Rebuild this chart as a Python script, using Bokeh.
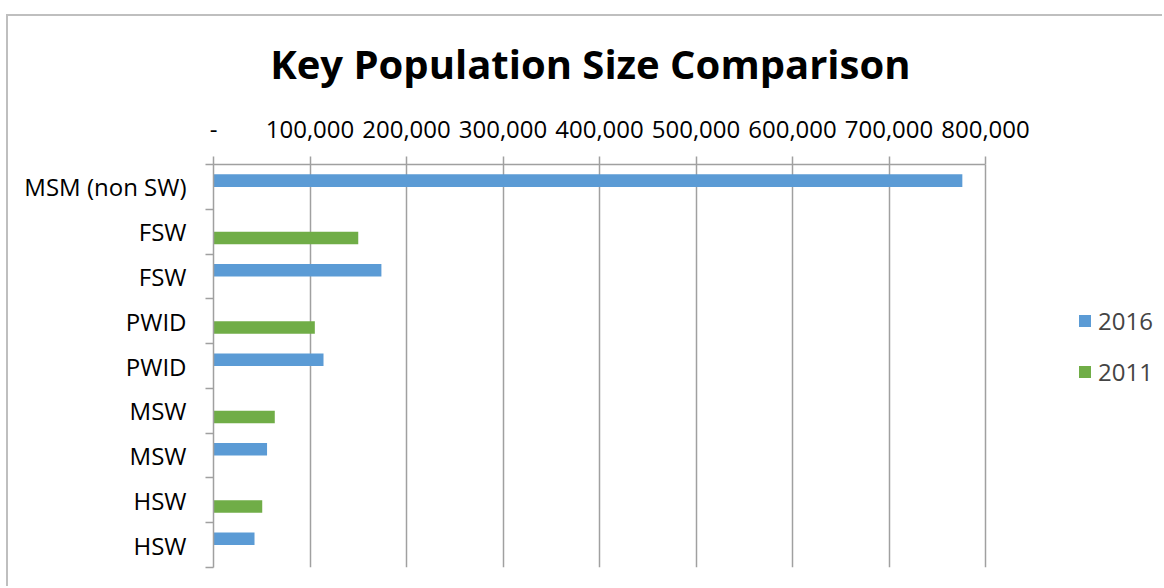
from bokeh.plotting import figure
from bokeh.models import Range1d, FixedTicker, Legend, LegendItem, ColumnDataSource
from bokeh.embed import file_html
from bokeh.resources import INLINE

# ---- data ----
categories = ["MSM (non SW)", "FSW", "FSW", "PWID", "PWID", "MSW", "MSW", "HSW", "HSW"]
values_2016 = [776000, None, 174000, None, 114000, None, 55500, None, 42500]
values_2011 = [None, 150000, None, 105000, None, 63500, None, 50500, None]
x_ticks = [0, 100000, 200000, 300000, 400000, 500000, 600000, 700000, 800000]
x_tick_labels = ["-", "100,000", "200,000", "300,000", "400,000", "500,000",
                 "600,000", "700,000", "800,000"]
series_names = ["2016", "2011"]
title_text = "Key Population Size Comparison"

BLUE = "#5B9BD5"
GREEN = "#70AD47"
GRID = "#a0a0a0"
FONT = "Open Sans"

n = len(categories)
centers = [i + 0.5 for i in range(n)]
x_max = x_ticks[-1]

# layout (pixels): the axis area spans 772 px for 0..800k; the frame is
# extended to the right edge so the legend can live inside it.
W, H = 1156, 572
LEFT, TOP, BOTTOM = 205, 148, 21
axis_px = 772
frame_px = W - LEFT
x_end = x_max * frame_px / axis_px

p = figure(width=W, height=H,
           x_range=Range1d(0, x_end), y_range=Range1d(n, 0),
           x_axis_location="above",
           output_backend="svg", toolbar_location=None,
           min_border_left=LEFT, min_border_top=TOP,
           min_border_right=0, min_border_bottom=BOTTOM)
p.margin = (14, 0, 0, 6)
p.styles = {"border-left": "2px solid #bfbfbf", "border-top": "2px solid #bfbfbf"}
p.outline_line_color = None
p.background_fill_color = "white"
p.border_fill_color = "white"

# bars
off = 0.14
src16 = ColumnDataSource(dict(
    y=[centers[i] - off for i, v in enumerate(values_2016) if v is not None],
    right=[v for v in values_2016 if v is not None]))
src11 = ColumnDataSource(dict(
    y=[centers[i] + off for i, v in enumerate(values_2011) if v is not None],
    right=[v for v in values_2011 if v is not None]))
r16 = p.hbar(y="y", right="right", left=0, height=0.28, source=src16,
             fill_color=BLUE, line_color=None)
r11 = p.hbar(y="y", right="right", left=0, height=0.28, source=src11,
             fill_color=GREEN, line_color=None)

# x axis (top) -- chart title drawn as its label, above the tick labels.
# trailing no-break spaces shift the centred title left to sit over the axis area
xa = p.xaxis[0]
xa.bounds = (0, x_max)
xa.ticker = FixedTicker(ticks=x_ticks, minor_ticks=[])
xa.major_label_overrides = {t: l for t, l in zip(x_ticks, x_tick_labels)}
xa.major_label_text_font = FONT
xa.major_label_text_font_size = "24px"
xa.major_label_text_color = "black"
xa.axis_line_color = GRID
xa.axis_line_width = 1.5
xa.major_tick_line_color = GRID
xa.major_tick_line_width = 1.5
xa.major_tick_out = 8
xa.major_tick_in = 0
xa.major_label_standoff = 19
xa.axis_label = title_text + "\u00a0" * 19
xa.axis_label_text_font = FONT
xa.axis_label_text_font_style = "bold"
xa.axis_label_text_font_size = "40px"
xa.axis_label_text_color = "black"
xa.axis_label_standoff = 27

# y axis
ya = p.yaxis[0]
ya.ticker = FixedTicker(ticks=centers, minor_ticks=list(range(n + 1)))
ya.major_label_overrides = {c: l for c, l in zip(centers, categories)}
ya.major_label_text_font = FONT
ya.major_label_text_font_size = "24px"
ya.major_label_text_color = "black"
ya.axis_line_color = GRID
ya.axis_line_width = 1.5
ya.major_tick_line_color = None
ya.major_tick_out = 0
ya.major_tick_in = 0
ya.minor_tick_line_color = GRID
ya.minor_tick_line_width = 1.5
ya.minor_tick_out = 8
ya.minor_tick_in = 0
ya.major_label_standoff = 19

# grid
p.xgrid.ticker = FixedTicker(ticks=x_ticks, minor_ticks=[])
p.xgrid.bounds = (0, x_max)
p.xgrid.grid_line_color = GRID
p.xgrid.grid_line_width = 1.5
p.ygrid.visible = False

# legend (inside the extended frame, right of the axis area)
legend = Legend(items=[LegendItem(label=series_names[0], renderers=[r16]),
                       LegendItem(label=series_names[1], renderers=[r11])],
                location=(864, 179))
legend.glyph_width = 15
legend.glyph_height = 15
legend.label_text_font = FONT
legend.label_text_font_size = "24px"
legend.label_standoff = 6
legend.spacing = 18
legend.padding = 0
legend.margin = 0
legend.border_line_color = None
legend.background_fill_alpha = 0
p.add_layout(legend, "center")

open("out.html", "w").write(file_html(p, INLINE))
